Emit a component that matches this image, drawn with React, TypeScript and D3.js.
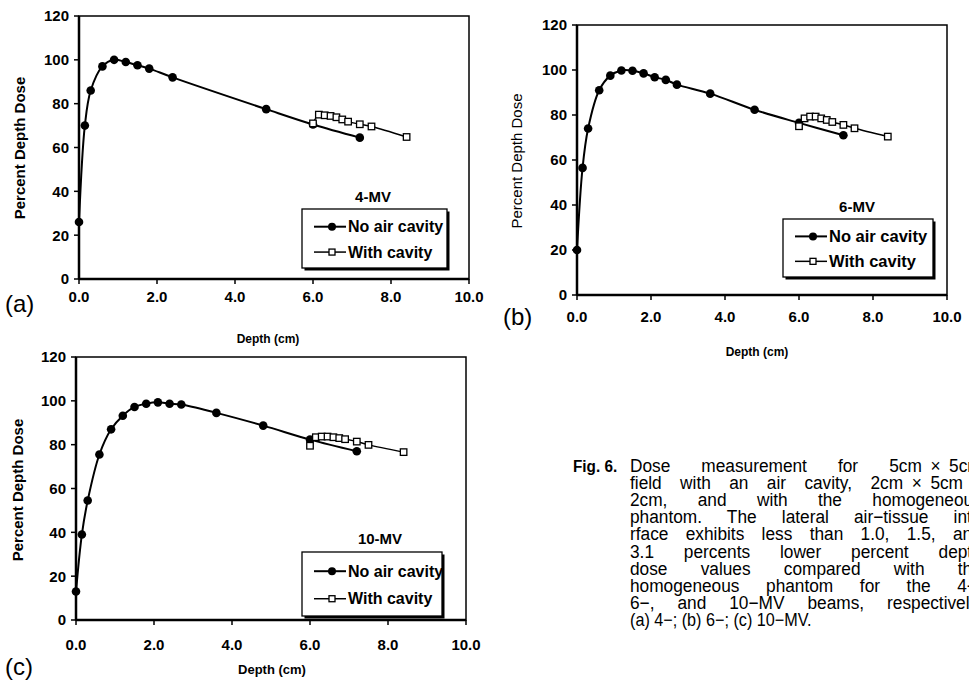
import React from "react";
import * as d3 from "d3";

// depth (cm) / percent depth dose
const depthNoAir4 = [0, 0.15, 0.3, 0.6, 0.9, 1.2, 1.5, 1.8, 2.4, 4.8, 6.0, 7.2];
const doseNoAir4 = [26, 70, 86, 97, 100, 99, 97.5, 96, 92, 77.5, 70.5, 64.5];
const depthNoAir = [0, 0.15, 0.3, 0.6, 0.9, 1.2, 1.5, 1.8, 2.1, 2.4, 2.7, 3.6, 4.8, 6.0, 7.2];
const doseNoAir6 = [20, 56.5, 74, 91, 97.5, 99.8, 99.7, 98.5, 96.8, 95.6, 93.5, 89.5, 82.3, 76.5, 71];
const doseNoAir10 = [13, 39, 54.5, 75.5, 87, 93.2, 97.2, 98.7, 99.3, 98.7, 98.3, 94.5, 88.7, 82.3, 77];
const depthCavity = [6.0, 6.15, 6.3, 6.45, 6.6, 6.75, 6.9, 7.2, 7.5, 8.4];
const doseCavity4 = [71, 75, 74.7, 74.4, 73.8, 72.8, 71.8, 70.6, 69.6, 64.8];
const doseCavity6 = [75, 78.5, 79.3, 79.3, 78.5, 77.8, 76.9, 75.6, 74.1, 70.4];
const doseCavity10 = [79.5, 83.4, 83.7, 83.7, 83.4, 83.0, 82.5, 81.4, 79.9, 76.6];

const xTicks = [0, 2, 4, 6, 8, 10];
const yTicks = [0, 20, 40, 60, 80, 100, 120];
const legendLabels = ["No air cavity", "With cavity"];
const beamLabels = ["4-MV", "6-MV", "10-MV"];
const panelTags = ["(a)", "(b)", "(c)"];
const captionLead = "Fig. 6.";
const captionLines = [
  "Dose measurement for 5cm\u2002×\u20025cm",
  "field with an air cavity, 2cm\u2002×\u20025cm\u2002×",
  "2cm, and with the homogeneous",
  "phantom. The lateral air−tissue inte",
  "rface exhibits less than 1.0, 1.5, and",
  "3.1 percents lower percent depth",
  "dose values compared with the",
  "homogeneous phantom for the 4−,",
  "6−, and 10−MV beams, respectively.",
  "(a) 4−; (b) 6−; (c) 10−MV.",
];

const FONT = "Arial, 'Liberation Sans', sans-serif";

const panels = [
  {
    depthNoAir: depthNoAir4, doseNoAir: doseNoAir4, doseCavity: doseCavity4,
    left: 79, right: 469, top: 16, bottom: 279, xLabelDy: 23,
    legend: { x: 302, y: 209, w: 145, h: 59, fs: 16 }, beam: { x: 373, y: 202 },
    tag: { x: 5, y: 312 }, xTitle: { x: 268, y: 343, fs: 12 }, yTitle: { x: 20, y: 148, bold: true },
  },
  {
    depthNoAir, doseNoAir: doseNoAir6, doseCavity: doseCavity6,
    left: 577, right: 947, top: 25, bottom: 295, xLabelDy: 27,
    legend: { x: 783, y: 219, w: 150, h: 58, fs: 16.5 }, beam: { x: 857, y: 212 },
    tag: { x: 503, y: 325 }, xTitle: { x: 757, y: 356, fs: 12 }, yTitle: { x: 517, y: 161, bold: false },
  },
  {
    depthNoAir, doseNoAir: doseNoAir10, doseCavity: doseCavity10,
    left: 76, right: 466, top: 357, bottom: 620, xLabelDy: 30,
    legend: { x: 302, y: 552, w: 140, h: 64, fs: 16 }, beam: { x: 380, y: 544 },
    tag: { x: 5, y: 675 }, xTitle: { x: 272, y: 674, fs: 13 }, yTitle: { x: 18, y: 490, bold: true },
  },
];

function Square({ cx, cy, s = 6.5 }: { cx: number; cy: number; s?: number }) {
  return <rect x={cx - s / 2} y={cy - s / 2} width={s} height={s} fill="#fff" stroke="#000" strokeWidth={1.3} />;
}

function Panel({ p, i }: { p: any; i: number }) {
  const x = d3.scaleLinear().domain([0, 10]).range([p.left, p.right]);
  const y = d3.scaleLinear().domain([0, 120]).range([p.bottom, p.top]);
  const line = d3
    .line<[number, number]>()
    .x((d) => x(d[0]))
    .y((d) => y(d[1]))
    .curve(d3.curveCatmullRom.alpha(0.5));
  const noAir: [number, number][] = p.depthNoAir.map((d: number, k: number) => [d, p.doseNoAir[k]]);
  const cavity: [number, number][] = depthCavity.map((d, k) => [d, p.doseCavity[k]]);
  const lg = p.legend;
  const row1 = lg.y + lg.h * 0.3;
  const row2 = lg.y + lg.h * 0.73;
  const sx0 = lg.x + 12;
  const sx1 = lg.x + 44;
  const smid = (sx0 + sx1) / 2 + 2;

  return (
    <g fontFamily={FONT}>
      {/* frame */}
      <rect x={p.left} y={p.top} width={p.right - p.left} height={p.bottom - p.top} fill="none" stroke="#000" strokeWidth={1.5} />
      <line x1={p.left} x2={p.left} y1={p.top} y2={p.bottom} stroke="#000" strokeWidth={2.5} />
      <line x1={p.left} x2={p.right} y1={p.bottom} y2={p.bottom} stroke="#000" strokeWidth={2.5} />

      {yTicks.map((t) => (
        <g key={"y" + t}>
          <line x1={p.left - 5} x2={p.left} y1={y(t)} y2={y(t)} stroke="#000" strokeWidth={1.5} />
          <text x={p.left - 10} y={y(t)} dy="0.36em" textAnchor="end" fontSize={15} fontWeight="bold">
            {t}
          </text>
        </g>
      ))}
      {xTicks.map((t) => (
        <g key={"x" + t}>
          <line x1={x(t)} x2={x(t)} y1={p.bottom} y2={p.bottom + 5} stroke="#000" strokeWidth={1.5} />
          <text x={x(t)} y={p.bottom + p.xLabelDy} textAnchor="middle" fontSize={15} fontWeight="bold">
            {d3.format(".1f")(t)}
          </text>
        </g>
      ))}

      <text
        transform={`translate(${p.yTitle.x},${p.yTitle.y}) rotate(-90)`}
        textAnchor="middle"
        dy="0.35em"
        fontSize={15}
        fontWeight={p.yTitle.bold ? "bold" : "normal"}
      >
        Percent Depth Dose
      </text>
      <text x={p.xTitle.x} y={p.xTitle.y} textAnchor="middle" fontSize={p.xTitle.fs} fontWeight="bold">
        Depth (cm)
      </text>
      <text x={p.tag.x} y={p.tag.y} fontSize={24}>
        {panelTags[i]}
      </text>

      {/* series */}
      <path d={line(cavity) || ""} fill="none" stroke="#000" strokeWidth={1.5} />
      <path d={line(noAir) || ""} fill="none" stroke="#000" strokeWidth={2} />
      {noAir.map((d, k) => (
        <circle key={"n" + k} cx={x(d[0])} cy={y(d[1])} r={4.3} fill="#000" />
      ))}
      {cavity.map((d, k) => (
        <Square key={"c" + k} cx={x(d[0])} cy={y(d[1])} />
      ))}

      {/* legend */}
      <text x={p.beam.x} y={p.beam.y} textAnchor="middle" fontSize={15} fontWeight="bold">
        {beamLabels[i]}
      </text>
      <rect x={lg.x + 2.5} y={lg.y + 2.5} width={lg.w} height={lg.h} fill="#000" />
      <rect x={lg.x} y={lg.y} width={lg.w} height={lg.h} fill="#fff" stroke="#000" strokeWidth={1.3} />
      <line x1={sx0} x2={sx1} y1={row1} y2={row1} stroke="#000" strokeWidth={2} />
      <circle cx={smid} cy={row1} r={4} fill="#000" />
      <text x={sx1 + 2} y={row1} dy="0.36em" fontSize={lg.fs} fontWeight="bold">
        {legendLabels[0]}
      </text>
      <line x1={sx0} x2={sx1} y1={row2} y2={row2} stroke="#000" strokeWidth={1.5} />
      <Square cx={smid} cy={row2} s={6} />
      <text x={sx1 + 2} y={row2} dy="0.36em" fontSize={lg.fs} fontWeight="bold">
        {legendLabels[1]}
      </text>
    </g>
  );
}

let measureCtx: CanvasRenderingContext2D | null = null;
function measure(text: string, font: string) {
  if (!measureCtx) measureCtx = document.createElement("canvas").getContext("2d");
  if (!measureCtx) return text.length * 8;
  measureCtx.font = font;
  return measureCtx.measureText(text).width;
}

function Caption() {
  const fs = 18;
  const squeeze = 0.96;
  const left = 630;
  const rightEdge = 982;
  const top = 472;
  const lh = 17.1;
  const family = "'Liberation Sans', Arial, sans-serif";
  const font = `${fs}px ${family}`;
  return (
    <g fontFamily={family} fontSize={fs}>
      <text transform={`translate(573,${top}) scale(0.9,1)`} fontSize={17} fontWeight="bold">
        {captionLead}
      </text>
      {captionLines.map((ln, k) => {
        const last = k === captionLines.length - 1;
        const spaces = (ln.match(/ /g) || []).length;
        const target = (rightEdge - left) / squeeze;
        const natural = measure(ln, font);
        // justified lines: spread the words out to the right edge; last line is left as it is
        const ws = last || spaces === 0 ? 0 : Math.max(0, (target - natural) / spaces);
        return (
          <text
            key={k}
            transform={`translate(${left},${top + k * lh}) scale(${last ? 0.9 : squeeze},1)`}
            style={{ wordSpacing: `${ws}px` }}
          >
            {ln}
          </text>
        );
      })}
    </g>
  );
}

export default function App() {
  return (
    <svg
      width={969}
      height={686}
      style={{ position: "absolute", left: 0, top: 0, background: "#fff" }}
    >
      <rect width={969} height={686} fill="#fff" />
      {panels.map((p, i) => (
        <Panel key={i} p={p} i={i} />
      ))}
      <Caption />
    </svg>
  );
}
